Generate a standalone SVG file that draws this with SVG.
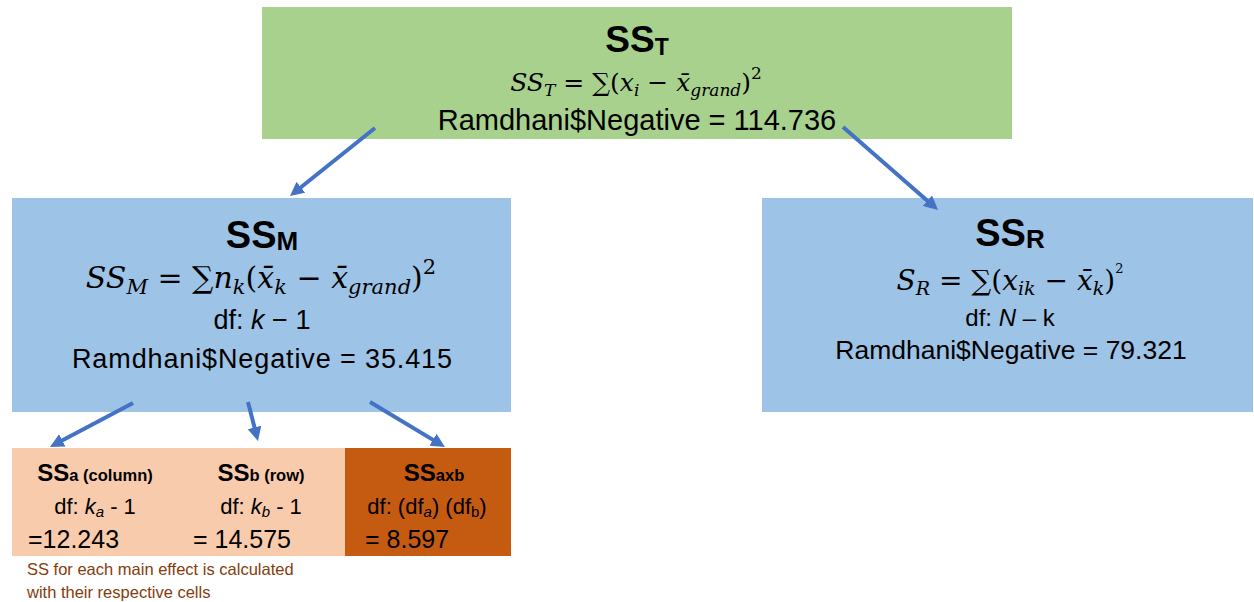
<svg xmlns="http://www.w3.org/2000/svg" width="1254" height="602" viewBox="0 0 1254 602">
<style>
.s{font-family:"Liberation Sans",Arial,sans-serif;fill:#000}
.b{font-weight:bold}
.m{font-family:"DejaVu Serif","Liberation Serif",serif;font-style:italic;fill:#000}
.n{font-style:normal}
.conn line{stroke:#4472c4;stroke-width:4;marker-end:url(#ah)}
.note{font-family:"Liberation Sans",Arial,sans-serif;font-size:16.5px;fill:#843c0c}
</style>
<defs>
<marker id="ah" markerUnits="userSpaceOnUse" markerWidth="16" markerHeight="16" refX="4" refY="7" orient="auto">
<path d="M0,0 L14,7 L0,14 z" fill="#4472c4"/>
</marker>
</defs>
<rect width="1254" height="602" fill="#fff"/>
<g id="ssT">
<rect x="262" y="7" width="750" height="132" fill="#a9d18e"/>
<text class="s b" x="637" y="52" text-anchor="middle" font-size="37">SS<tspan font-size="23" dy="3">T</tspan></text>
<text class="m" x="636" y="91" text-anchor="middle" font-size="25">SS<tspan font-size="17" dy="5">T</tspan><tspan class="n" dy="-5"> = ∑(</tspan>x<tspan font-size="17" dy="5">i</tspan><tspan class="n" dy="-5"> − </tspan>x̄<tspan font-size="17" dy="5">grand</tspan><tspan class="n" dy="-5">)</tspan><tspan class="n" font-size="17" dy="-12">2</tspan></text>
<text class="s" x="637" y="130" text-anchor="middle" font-size="29">Ramdhani$Negative = 114.736</text>
</g>
<g id="ssM">
<rect x="12" y="198" width="499" height="214" fill="#9dc3e6"/>
<text class="s b" x="262" y="248" text-anchor="middle" font-size="38">SS<tspan font-size="26" dy="2">M</tspan></text>
<text class="m" x="261" y="288" text-anchor="middle" font-size="30">SS<tspan font-size="21" dy="6">M</tspan><tspan class="n" dy="-6"> = ∑</tspan>n<tspan font-size="21" dy="6">k</tspan><tspan class="n" dy="-6">(</tspan>x̄<tspan font-size="21" dy="6">k</tspan><tspan class="n" dy="-6"> − </tspan>x̄<tspan font-size="21" dy="6">grand</tspan><tspan class="n" dy="-6">)</tspan><tspan class="n" font-size="21" dy="-14">2</tspan></text>
<text class="s" x="262" y="329" text-anchor="middle" font-size="27">df: <tspan font-style="italic">k</tspan> − 1</text>
<text class="s" x="262" y="368" text-anchor="middle" font-size="27" textLength="380" lengthAdjust="spacing">Ramdhani$Negative = 35.415</text>
</g>
<g id="ssR">
<rect x="762" y="198" width="491" height="214" fill="#9dc3e6"/>
<text class="s b" x="1010" y="246" text-anchor="middle" font-size="38">SS<tspan font-size="26" dy="2">R</tspan></text>
<text class="m" x="1010" y="290" text-anchor="middle" font-size="28">S<tspan font-size="19" dy="5">R</tspan><tspan class="n" dy="-5"> = ∑(</tspan>x<tspan font-size="19" dy="5">ik</tspan><tspan class="n" dy="-5"> − </tspan>x̄<tspan font-size="19" dy="5">k</tspan><tspan class="n" dy="-5">)</tspan><tspan class="n" font-size="13" dy="-17">2</tspan></text>
<text class="s" x="1010" y="326" text-anchor="middle" font-size="24">df: <tspan font-style="italic">N</tspan> – k</text>
<text class="s" x="1011" y="359" text-anchor="middle" font-size="26.5">Ramdhani$Negative = 79.321</text>
</g>
<g id="ssA">
<rect x="12" y="448" width="167" height="108" fill="#f8cbad"/>
<text class="s b" x="95" y="481" text-anchor="middle" font-size="24">SS<tspan font-size="16.5">a (column)</tspan></text>
<text class="s" x="95" y="514" text-anchor="middle" font-size="22">df: <tspan font-style="italic">k<tspan font-size="15" dy="3">a</tspan></tspan><tspan dy="-3"> - 1</tspan></text>
<text class="s" x="28" y="548" font-size="25">=12.243</text>
</g>
<g id="ssB">
<rect x="178" y="448" width="167" height="108" fill="#f8cbad"/>
<text class="s b" x="261" y="481" text-anchor="middle" font-size="24">SS<tspan font-size="16.5">b (row)</tspan></text>
<text class="s" x="261" y="514" text-anchor="middle" font-size="22">df: <tspan font-style="italic">k<tspan font-size="15" dy="3">b</tspan></tspan><tspan dy="-3"> - 1</tspan></text>
<text class="s" x="193" y="548" font-size="25">= 14.575</text>
</g>
<g id="ssAxB">
<rect x="345" y="448" width="166" height="108" fill="#c55a11"/>
<text class="s b" x="434" y="481" text-anchor="middle" font-size="24">SS<tspan font-size="16.5">axb</tspan></text>
<text class="s" x="427" y="514" text-anchor="middle" font-size="22">df: (df<tspan font-style="italic" font-size="15" dy="3">a</tspan><tspan dy="-3">) (df</tspan><tspan font-size="15" dy="3">b</tspan><tspan dy="-3">)</tspan></text>
<text class="s" x="365" y="548" font-size="25">= 8.597</text>
</g>
<g id="note">
<text class="note" x="27" y="575">SS for each main effect is calculated</text>
<text class="note" x="27" y="598">with their respective cells</text>
</g>
<g class="conn" id="connectors">
<line x1="375" y1="128" x2="297.8" y2="189.8"/>
<line x1="843" y1="127" x2="930.5" y2="203.4"/>
<line x1="133" y1="403" x2="58.8" y2="442.3"/>
<line x1="248" y1="402" x2="255.5" y2="431.3"/>
<line x1="370" y1="402" x2="436.4" y2="441.9"/>
</g>
</svg>
